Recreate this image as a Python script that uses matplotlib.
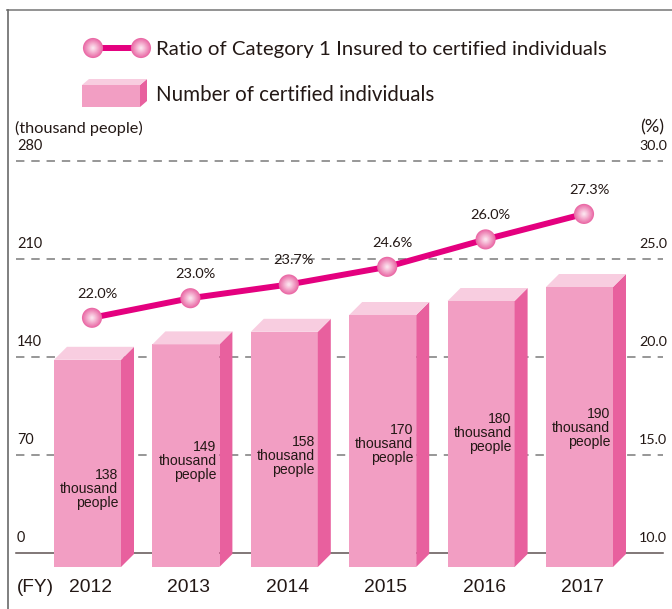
import matplotlib
matplotlib.use("Agg")
import matplotlib.pyplot as plt
from matplotlib.patches import Polygon, Rectangle
from matplotlib.lines import Line2D
import numpy as np

# ---------------- data ----------------
years = ["2012", "2013", "2014", "2015", "2016", "2017"]
certified = [138, 149, 158, 170, 180, 190]          # thousand people
ratio = [22.0, 23.0, 23.7, 24.6, 26.0, 27.3]          # %
left_ticks = [0, 70, 140, 210, 280]
right_ticks = ["10.0", "15.0", "20.0", "25.0", "30.0"]
legend_labels = ["Ratio of Category 1 Insured to certified individuals",
                 "Number of certified individuals"]

# ---------------- style ----------------
W, H = 672, 609
DPI = 100
TXT = "#231815"
FRONT = "#F29EC3"
SIDE = "#E8609E"
TOP = "#F8CDE0"
LINEC = "#E4007F"
GRID = "#7a7a7a"
F_MY = ["Lato", "DejaVu Sans"]
F_NAR = ["Liberation Sans Narrow", "Liberation Sans", "DejaVu Sans"]
label_y = [46, 66, 69, 78, 86, 89]      # vertical centre of bar value labels (left-axis units)

fig = plt.figure(figsize=(W / DPI, H / DPI), dpi=DPI)
fig.patch.set_facecolor("white")
renderer = fig.canvas.get_renderer()

# pixel overlay axes (y downwards)
axp = fig.add_axes([0, 0, 1, 1])
axp.set_xlim(0, W)
axp.set_ylim(H, 0)
axp.axis("off")

# data axes: category index on x, left-axis units on y
X0, XS = 87.5, 98.4      # pixel of first bar centre, pixel step
Y0, YS = 553.0, 1.4      # pixel of value 0, pixels per unit
ax = fig.add_axes([0, 0, 1, 1], facecolor="none")
ax.set_xlim(-X0 / XS, (W - X0) / XS)
ax.set_ylim(-(H - Y0) / YS, Y0 / YS)
ax.axis("off")


def fit(axis, x, y, s, width, family, ha="left", va="center", color=TXT, **kw):
    t = axis.text(x, y, s, fontsize=12, family=family, ha=ha, va=va, color=color, **kw)
    bb = t.get_window_extent(renderer)
    t.set_fontsize(12 * width / bb.width)
    return t


# frame
axp.add_line(Line2D([7, W], [10, 10], color="#8a8a8a", lw=1.3))
axp.add_line(Line2D([7.5, 7.5], [10, H], color="#6a6a6a", lw=1.2))

# gridlines + baseline
x_lo = (16 - X0) / XS
x_hi = (663 - X0) / XS
for v in left_ticks[1:]:
    ax.plot([x_lo, x_hi], [v, v], color=GRID, lw=1.1, dashes=(5.5, 4.5), zorder=1)
ax.plot([x_lo, x_hi], [0, 0], color="#5e5252", lw=1.1, zorder=1)

# axis tick labels
for v, r in zip(left_ticks, right_ticks):
    fit(ax, (17 - X0) / XS, v + 10.5, str(v), 8.4 * len(str(v)), F_MY, ha="left")
    fit(ax, (667 - X0) / XS, v + 10.5, r, 28, F_MY, ha="right")
fit(axp, 15, 128, "(thousand people)", 127, F_MY, ha="left")
fit(axp, 664, 127, "(%)", 24, F_MY, ha="right")

# bars (pseudo 3D)
bw = 67 / XS
dx = 13 / XS
dy = 13 / YS
bottom = -10
for i, v in enumerate(certified):
    fl, fr = i - bw / 2, i + bw / 2
    ax.add_patch(Rectangle((fl, bottom), bw, v - bottom, facecolor=FRONT, edgecolor="none", zorder=2))
    ax.add_patch(Polygon([(fr, bottom), (fr + dx, bottom + dy), (fr + dx, v + dy), (fr, v)],
                         closed=True, facecolor=SIDE, edgecolor="none", zorder=2))
    ax.add_patch(Polygon([(fl, v), (fl + dx, v + dy), (fr + dx, v + dy), (fr, v)],
                         closed=True, facecolor=TOP, edgecolor="none", zorder=2))
    fit(ax, fr - 3 / XS, label_y[i], f"{v}\nthousand\npeople", 58, F_NAR,
        ha="right", va="center", multialignment="right", linespacing=1.0, zorder=5)
    fit(ax, i + 3 / XS, (Y0 - 587) / YS, years[i], 43, F_NAR, ha="center")
fit(axp, 35.5, 587, "(FY)", 37, F_NAR, ha="center")


# ratio line on left-axis units
def r2v(r):
    return (r - 10) * 19.6 / YS


def sphere(axis, xs, ys, d_pt, z):
    n = 9
    outer = np.array(matplotlib.colors.to_rgb("#EA6AA6"))
    inner = np.array(matplotlib.colors.to_rgb("#FBE0EC"))
    for k in range(n):
        f = k / (n - 1)
        c = outer * (1 - f) + inner * f
        d = d_pt * (1 - 0.85 * f)
        axis.scatter(xs, ys, s=d ** 2, color=c, edgecolors="none", zorder=z + k * 0.01)


lx = [i + 4.5 / XS for i in range(len(ratio))]
ly = [r2v(r) for r in ratio]
ax.plot(lx, ly, color=LINEC, lw=4.3, zorder=6, solid_capstyle="round")
sphere(ax, lx, ly, 14.5, 7)
for x, y, r in zip(lx, ly, ratio):
    fit(ax, x + 5 / XS, y + 24 / YS, f"{r:.1f}%", 40, F_MY, ha="center", zorder=8)

# legend
axp.add_line(Line2D([93, 141], [48, 48], color=LINEC, lw=4.3, zorder=3))
sphere(axp, [93, 141], [48, 48], 14.5, 4)
fit(axp, 156, 49, legend_labels[0], 449, F_MY, ha="left")
axp.add_patch(Rectangle((82, 85), 58, 22, facecolor=FRONT, edgecolor="none"))
axp.add_patch(Polygon([(140, 85), (147, 79), (147, 101), (140, 107)], closed=True,
                      facecolor=SIDE, edgecolor="none"))
axp.add_patch(Polygon([(82, 85), (89, 79), (147, 79), (140, 85)], closed=True,
                      facecolor=TOP, edgecolor="none"))
fit(axp, 156, 95, legend_labels[1], 278, F_MY, ha="left")

fig.savefig("out.png", dpi=DPI, facecolor="white")
